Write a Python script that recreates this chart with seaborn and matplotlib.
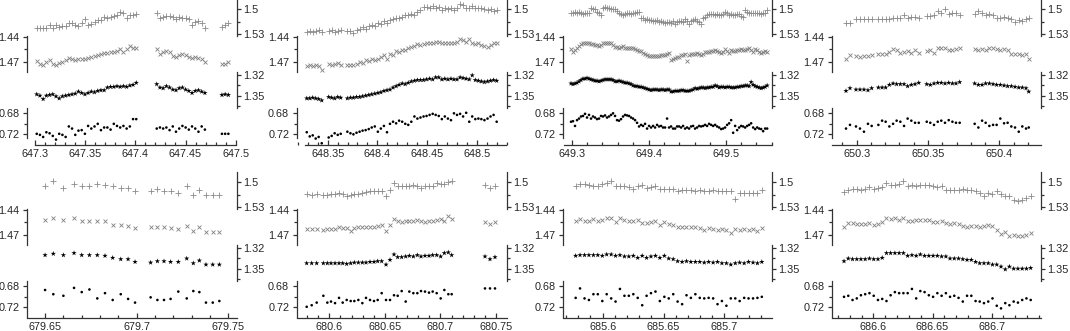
import matplotlib
matplotlib.use('Agg')
import matplotlib.pyplot as plt
from matplotlib.ticker import MultipleLocator, FormatStrFormatter
import seaborn as sns

# ---- night 647 ----
t_647 = [647.3017, 647.3049, 647.3081, 647.3113, 647.3145, 647.3177, 647.3209, 647.3241, 647.3273, 647.3305,
         647.3337, 647.3369, 647.3401, 647.3433, 647.3465, 647.3497, 647.3529, 647.3561, 647.3593, 647.3625,
         647.3657, 647.3689, 647.3721, 647.3753, 647.3785, 647.3817, 647.3849, 647.3881, 647.3913, 647.3945,
         647.3977, 647.4009,
         647.4213, 647.4245, 647.4277, 647.4309, 647.4341, 647.4373, 647.4405, 647.4437, 647.4469, 647.4501,
         647.4533, 647.4565, 647.4597, 647.4629, 647.4661, 647.4693,
         647.4863, 647.4895, 647.4927]
plus_647 = [1.523, 1.523, 1.523, 1.523, 1.519, 1.523, 1.519, 1.521, 1.520, 1.520, 1.517, 1.517, 1.519, 1.520,
            1.517, 1.512, 1.519, 1.518, 1.515, 1.513, 1.513, 1.509, 1.511, 1.509, 1.508, 1.507, 1.503, 1.505,
            1.511, 1.507, 1.507, 1.506,
            1.504, 1.511, 1.509, 1.508, 1.508, 1.509, 1.512, 1.509, 1.511, 1.511, 1.512, 1.519, 1.515, 1.514,
            1.516, 1.522,
            1.521, 1.519, 1.517]
cross_647 = [1.469, 1.472, 1.474, 1.470, 1.468, 1.472, 1.474, 1.471, 1.470, 1.468, 1.465, 1.466, 1.468, 1.466,
             1.467, 1.466, 1.465, 1.464, 1.463, 1.462, 1.460, 1.459, 1.459, 1.458, 1.458, 1.457, 1.455, 1.458,
             1.455, 1.451, 1.454, 1.453,
             1.455, 1.460, 1.458, 1.457, 1.458, 1.463, 1.464, 1.462, 1.460, 1.462, 1.464, 1.465, 1.464, 1.465,
             1.466, 1.470,
             1.472, 1.472, 1.470]
star_647 = [1.348, 1.350, 1.355, 1.350, 1.349, 1.348, 1.351, 1.354, 1.351, 1.350, 1.349, 1.348, 1.347, 1.344,
            1.346, 1.348, 1.346, 1.344, 1.345, 1.343, 1.342, 1.342, 1.338, 1.337, 1.337, 1.336, 1.337, 1.336,
            1.337, 1.335, 1.334, 1.331,
            1.333, 1.338, 1.339, 1.336, 1.338, 1.341, 1.342, 1.339, 1.338, 1.341, 1.343, 1.346, 1.343, 1.342,
            1.344, 1.346,
            1.349, 1.348, 1.349]
dot_647 = [0.719, 0.721, 0.725, 0.716, 0.718, 0.723, 0.730, 0.719, 0.721, 0.725, 0.705, 0.709, 0.721, 0.713,
           0.712, 0.719, 0.704, 0.709, 0.705, 0.700, 0.712, 0.707, 0.707, 0.711, 0.700, 0.704, 0.707, 0.704,
           0.709, 0.705, 0.691, 0.691,
           0.709, 0.707, 0.709, 0.707, 0.712, 0.705, 0.715, 0.709, 0.704, 0.707, 0.711, 0.705, 0.709, 0.715,
           0.705, 0.711,
           0.719, 0.719, 0.719]

# ---- night 648 ----
t_648 = [648.3289, 648.3319, 648.3349, 648.3379, 648.3409, 648.3440,
         648.3510, 648.3540, 648.3570, 648.3601, 648.3631,
         648.3698, 648.3729, 648.3759, 648.3790, 648.3821, 648.3851, 648.3882, 648.3913, 648.3943, 648.3974,
         648.4005, 648.4035, 648.4066, 648.4097, 648.4127, 648.4158, 648.4189, 648.4219, 648.4250, 648.4281,
         648.4311, 648.4342, 648.4373, 648.4403, 648.4434, 648.4465, 648.4495, 648.4526, 648.4557, 648.4587,
         648.4618, 648.4649, 648.4679, 648.4710, 648.4741, 648.4771, 648.4802, 648.4833, 648.4863, 648.4894,
         648.4925, 648.4955, 648.4986, 648.5017, 648.5047, 648.5078, 648.5109, 648.5139, 648.5170, 648.5201]
plus_648 = [1.527, 1.526, 1.527, 1.526, 1.525, 1.527,
            1.526, 1.525, 1.527, 1.526, 1.525,
            1.526, 1.526, 1.529, 1.525, 1.524, 1.521, 1.524, 1.520, 1.519, 1.520,
            1.516, 1.518, 1.514, 1.516, 1.513, 1.512, 1.511, 1.510, 1.509, 1.507,
            1.507, 1.506, 1.507, 1.503, 1.501, 1.497, 1.497, 1.498, 1.496, 1.498,
            1.497, 1.501, 1.498, 1.500, 1.499, 1.501, 1.499, 1.494, 1.495, 1.498,
            1.499, 1.496, 1.498, 1.499, 1.498, 1.500, 1.501, 1.500, 1.502, 1.501]
cross_648 = [1.475, 1.474, 1.475, 1.474, 1.475, 1.479,
             1.472, 1.473, 1.472, 1.471, 1.473,
             1.474, 1.473, 1.474, 1.472, 1.470, 1.471, 1.468, 1.469, 1.467, 1.468,
             1.466, 1.464, 1.462, 1.466, 1.460, 1.462, 1.457, 1.458, 1.456, 1.456,
             1.454, 1.452, 1.451, 1.449, 1.450, 1.449, 1.448, 1.447, 1.448, 1.446,
             1.446, 1.448, 1.447, 1.448, 1.447, 1.448, 1.446, 1.443, 1.444, 1.446,
             1.443, 1.447, 1.449, 1.448, 1.450, 1.451, 1.452, 1.450, 1.448, 1.448]
star_648 = [1.354, 1.354, 1.353, 1.354, 1.355, 1.357,
            1.352, 1.353, 1.354, 1.352, 1.353,
            1.354, 1.353, 1.353, 1.352, 1.352, 1.351, 1.350, 1.349, 1.348, 1.347,
            1.346, 1.345, 1.343, 1.342, 1.341, 1.338, 1.336, 1.334, 1.332, 1.333,
            1.331, 1.329, 1.328, 1.327, 1.327, 1.327, 1.326, 1.325, 1.326, 1.323,
            1.323, 1.326, 1.325, 1.326, 1.325, 1.326, 1.326, 1.323, 1.324, 1.325,
            1.326, 1.320, 1.327, 1.328, 1.329, 1.330, 1.329, 1.328, 1.327, 1.328]
dot_648 = [0.716, 0.724, 0.722, 0.728, 0.725, 0.737,
           0.726, 0.723, 0.718, 0.721, 0.719,
           0.715, 0.718, 0.720, 0.717, 0.715, 0.713, 0.712, 0.710, 0.707, 0.705,
           0.715, 0.709, 0.704, 0.716, 0.700, 0.696, 0.699, 0.694, 0.696, 0.700,
           0.702, 0.696, 0.686, 0.690, 0.688, 0.686, 0.685, 0.683, 0.681, 0.683,
           0.685, 0.691, 0.686, 0.690, 0.693, 0.680, 0.683, 0.681, 0.686, 0.679,
           0.696, 0.686, 0.691, 0.690, 0.691, 0.693, 0.690, 0.686, 0.683, 0.696]

# ---- night 649 ----
t_649 = [649.2991, 649.3017, 649.3043, 649.3069, 649.3095, 649.3121, 649.3147, 649.3173, 649.3199, 649.3225,
         649.3251, 649.3277, 649.3303, 649.3329, 649.3355, 649.3381, 649.3407, 649.3433, 649.3459, 649.3485,
         649.3511, 649.3537, 649.3563, 649.3589, 649.3615, 649.3641, 649.3667, 649.3693, 649.3719, 649.3745,
         649.3771, 649.3797, 649.3823, 649.3849, 649.3875, 649.3901, 649.3927, 649.3953, 649.3979, 649.4005,
         649.4031, 649.4057, 649.4083, 649.4109, 649.4135, 649.4161, 649.4187, 649.4213, 649.4239, 649.4265,
         649.4291, 649.4317, 649.4343, 649.4369, 649.4395, 649.4421, 649.4447, 649.4473, 649.4499, 649.4525,
         649.4551, 649.4577, 649.4603, 649.4629, 649.4655, 649.4681, 649.4707, 649.4733, 649.4759, 649.4785,
         649.4811, 649.4837, 649.4863, 649.4889, 649.4915, 649.4941, 649.4967, 649.4993, 649.5019, 649.5045,
         649.5071, 649.5097, 649.5123, 649.5149, 649.5175, 649.5201, 649.5227, 649.5253, 649.5279, 649.5305,
         649.5331, 649.5357, 649.5383, 649.5409, 649.5435, 649.5461, 649.5487, 649.5513, 649.5539]
plus_649 = [1.504, 1.504, 1.503, 1.504, 1.503, 1.505, 1.506, 1.504, 1.505, 1.504,
            1.498, 1.500, 1.500, 1.503, 1.504, 1.507, 1.499, 1.497, 1.498, 1.499,
            1.500, 1.500, 1.500, 1.502, 1.505, 1.506, 1.507, 1.506, 1.504, 1.505,
            1.506, 1.505, 1.504, 1.503, 1.503, 1.510, 1.511, 1.513, 1.512, 1.513,
            1.513, 1.514, 1.514, 1.513, 1.515, 1.514, 1.515, 1.516, 1.515, 1.515,
            1.517, 1.514, 1.518, 1.515, 1.514, 1.514, 1.515, 1.512, 1.514, 1.518,
            1.514, 1.513, 1.512, 1.514, 1.515, 1.518, 1.511, 1.509, 1.507, 1.506,
            1.506, 1.506, 1.507, 1.506, 1.507, 1.507, 1.506, 1.503, 1.505, 1.507,
            1.506, 1.507, 1.507, 1.506, 1.506, 1.508, 1.509, 1.501, 1.503, 1.504,
            1.504, 1.504, 1.505, 1.505, 1.505, 1.506, 1.505, 1.505, 1.501]
cross_649 = [1.455, 1.458, 1.456, 1.454, 1.451, 1.449, 1.448, 1.447, 1.448, 1.447,
             1.449, 1.449, 1.450, 1.450, 1.451, 1.450, 1.447, 1.447, 1.448, 1.448,
             1.448, 1.450, 1.452, 1.452, 1.453, 1.452, 1.451, 1.454, 1.453, 1.453,
             1.454, 1.454, 1.455, 1.456, 1.457, 1.457, 1.459, 1.460, 1.462, 1.463,
             1.463, 1.463, 1.463, 1.463, 1.463, 1.462, 1.462, 1.462, 1.460, 1.459,
             1.468, 1.466, 1.465, 1.464, 1.464, 1.462, 1.462, 1.461, 1.469, 1.462,
             1.461, 1.460, 1.460, 1.459, 1.460, 1.462, 1.461, 1.458, 1.458, 1.458,
             1.457, 1.457, 1.456, 1.457, 1.458, 1.459, 1.458, 1.455, 1.457, 1.459,
             1.456, 1.457, 1.457, 1.456, 1.456, 1.455, 1.456, 1.456, 1.455, 1.454,
             1.456, 1.458, 1.455, 1.456, 1.458, 1.459, 1.458, 1.457, 1.458]
star_649 = [1.332, 1.333, 1.332, 1.331, 1.329, 1.327, 1.325, 1.325, 1.324, 1.325,
            1.326, 1.327, 1.328, 1.328, 1.329, 1.328, 1.327, 1.326, 1.326, 1.326,
            1.326, 1.327, 1.329, 1.329, 1.328, 1.329, 1.330, 1.331, 1.331, 1.332,
            1.333, 1.335, 1.336, 1.336, 1.337, 1.337, 1.338, 1.339, 1.340, 1.341,
            1.342, 1.341, 1.341, 1.341, 1.342, 1.341, 1.341, 1.342, 1.341, 1.341,
            1.344, 1.344, 1.343, 1.343, 1.343, 1.342, 1.342, 1.343, 1.343, 1.343,
            1.342, 1.341, 1.339, 1.340, 1.339, 1.338, 1.338, 1.339, 1.338, 1.338,
            1.337, 1.337, 1.335, 1.336, 1.338, 1.337, 1.337, 1.338, 1.337, 1.337,
            1.338, 1.338, 1.338, 1.337, 1.337, 1.336, 1.336, 1.335, 1.335, 1.336,
            1.330, 1.334, 1.336, 1.337, 1.338, 1.339, 1.338, 1.337, 1.335]
dot_649 = [0.696, 0.695, 0.704, 0.693, 0.690, 0.686, 0.685, 0.681, 0.688, 0.683,
           0.690, 0.686, 0.688, 0.691, 0.690, 0.685, 0.686, 0.684, 0.688, 0.686,
           0.683, 0.680, 0.685, 0.693, 0.694, 0.691, 0.686, 0.683, 0.684, 0.685,
           0.688, 0.690, 0.693, 0.698, 0.705, 0.702, 0.704, 0.700, 0.709, 0.704,
           0.707, 0.704, 0.707, 0.702, 0.705, 0.704, 0.707, 0.707, 0.690, 0.707,
           0.705, 0.709, 0.709, 0.705, 0.705, 0.707, 0.704, 0.709, 0.707, 0.709,
           0.705, 0.704, 0.709, 0.707, 0.704, 0.705, 0.704, 0.702, 0.704, 0.700,
           0.702, 0.704, 0.702, 0.705, 0.707, 0.710, 0.709, 0.707, 0.702, 0.699,
           0.693, 0.717, 0.704, 0.712, 0.707, 0.704, 0.705, 0.707, 0.704, 0.702,
           0.699, 0.707, 0.710, 0.707, 0.709, 0.710, 0.714, 0.709, 0.709]

# ---- night 650 ----
t_650 = [650.2925, 650.2953,
         650.2995, 650.3023, 650.3051, 650.3079, 650.3105,
         650.3152, 650.3178, 650.3203, 650.3229, 650.3255, 650.3280, 650.3306, 650.3332, 650.3357, 650.3383,
         650.3409, 650.3435,
         650.3491, 650.3516, 650.3542, 650.3568, 650.3593, 650.3619, 650.3645, 650.3671, 650.3696, 650.3722,
         650.3827, 650.3853, 650.3879, 650.3904, 650.3930, 650.3956, 650.3981, 650.4007, 650.4033, 650.4058,
         650.4084, 650.4110, 650.4136, 650.4161, 650.4187, 650.4206]
plus_650 = [1.516, 1.517, 1.512, 1.512, 1.512, 1.512, 1.512,
            1.512, 1.512, 1.512, 1.512, 1.510, 1.510, 1.511, 1.507, 1.511, 1.509, 1.509, 1.510,
            1.508, 1.508, 1.507, 1.502, 1.505, 1.500, 1.506, 1.504, 1.505, 1.507,
            1.506, 1.502, 1.505, 1.507, 1.506, 1.507, 1.511, 1.511, 1.509, 1.511, 1.512, 1.515, 1.513, 1.514,
            1.512, 1.511]
cross_650 = [1.466, 1.462, 1.463, 1.464, 1.463, 1.463, 1.462,
             1.460, 1.460, 1.460, 1.458, 1.455, 1.456, 1.459, 1.458, 1.457, 1.459, 1.456, 1.459,
             1.457, 1.456, 1.459, 1.453, 1.454, 1.453, 1.456, 1.456, 1.455, 1.453,
             1.455, 1.456, 1.455, 1.456, 1.454, 1.454, 1.455, 1.456, 1.455, 1.456, 1.460, 1.461, 1.460, 1.462,
             1.461, 1.466]
star_650 = [1.343, 1.339, 1.341, 1.341, 1.341, 1.342, 1.339,
            1.338, 1.338, 1.338, 1.334, 1.332, 1.333, 1.333, 1.333, 1.336, 1.334, 1.333, 1.331,
            1.333, 1.334, 1.332, 1.331, 1.331, 1.332, 1.331, 1.332, 1.332, 1.330,
            1.332, 1.334, 1.334, 1.332, 1.332, 1.333, 1.334, 1.334, 1.335, 1.336, 1.336, 1.337, 1.338, 1.338,
            1.339, 1.344]
dot_650 = [0.709, 0.702, 0.705, 0.709, 0.715, 0.700, 0.704,
           0.702, 0.694, 0.696, 0.705, 0.700, 0.694, 0.696, 0.704, 0.690, 0.694, 0.698, 0.698,
           0.696, 0.698, 0.702, 0.696, 0.694, 0.698, 0.693, 0.696, 0.698, 0.698,
           0.700, 0.707, 0.694, 0.698, 0.704, 0.702, 0.702, 0.690, 0.699, 0.698, 0.705, 0.707, 0.715, 0.705,
           0.709, 0.707]

# ---- night 679 ----
t_679 = [679.6500, 679.6545, 679.6600, 679.6658, 679.6700, 679.6742, 679.6785, 679.6827, 679.6869, 679.6913,
         679.6953, 679.6991,
         679.7076, 679.7113, 679.7149, 679.7185, 679.7227, 679.7273, 679.7309, 679.7342, 679.7378, 679.7415,
         679.7451]
plus_679 = [1.504, 1.498, 1.507, 1.502, 1.504, 1.504, 1.502, 1.503, 1.505, 1.507, 1.507, 1.511,
            1.511, 1.508, 1.511, 1.511, 1.513, 1.505, 1.515, 1.509, 1.515, 1.515, 1.515]
cross_679 = [1.452, 1.450, 1.452, 1.450, 1.453, 1.453, 1.454, 1.454, 1.458, 1.458, 1.459, 1.462,
             1.461, 1.461, 1.461, 1.462, 1.463, 1.459, 1.465, 1.461, 1.467, 1.467, 1.467]
star_679 = [1.330, 1.328, 1.330, 1.327, 1.330, 1.330, 1.330, 1.331, 1.334, 1.336, 1.336, 1.340,
            1.341, 1.339, 1.339, 1.340, 1.340, 1.335, 1.342, 1.338, 1.344, 1.344, 1.344]
dot_679 = [0.687, 0.695, 0.698, 0.683, 0.691, 0.686, 0.703, 0.693, 0.706, 0.695, 0.704, 0.711,
           0.701, 0.706, 0.706, 0.704, 0.690, 0.703, 0.689, 0.691, 0.711, 0.711, 0.708]

# ---- night 680 ----
t_680 = [680.5796, 680.5841, 680.5886,
         680.5946, 680.5982, 680.6015, 680.6051, 680.6087, 680.6120, 680.6156, 680.6192, 680.6225, 680.6261,
         680.6297, 680.6330, 680.6366, 680.6402, 680.6435, 680.6471, 680.6510, 680.6546, 680.6582, 680.6615,
         680.6651, 680.6687, 680.6720, 680.6756, 680.6792, 680.6825, 680.6861, 680.6897, 680.6930, 680.6966,
         680.7002, 680.7035, 680.7071, 680.7101,
         680.7401, 680.7446, 680.7491]
plus_680 = [1.514, 1.515, 1.514,
            1.515, 1.515, 1.514, 1.514, 1.513, 1.514, 1.516, 1.515, 1.514, 1.514, 1.513, 1.512, 1.511, 1.511,
            1.510, 1.510, 1.517, 1.509, 1.501, 1.505, 1.505, 1.505, 1.504, 1.503, 1.505, 1.507, 1.505, 1.504,
            1.504, 1.501, 1.502, 1.502, 1.500, 1.499,
            1.503, 1.507, 1.504]
cross_680 = [1.463, 1.463, 1.463,
             1.464, 1.463, 1.463, 1.463, 1.461, 1.462, 1.462, 1.465, 1.462, 1.461, 1.461, 1.460, 1.460, 1.460,
             1.459, 1.458, 1.465, 1.458, 1.451, 1.454, 1.455, 1.454, 1.453, 1.454, 1.452, 1.453, 1.455, 1.453,
             1.453, 1.452, 1.451, 1.453, 1.448, 1.451,
             1.455, 1.457, 1.455]
star_680 = [1.342, 1.342, 1.342,
            1.342, 1.342, 1.342, 1.342, 1.342, 1.342, 1.343, 1.342, 1.341, 1.341, 1.341, 1.341, 1.340, 1.340,
            1.339, 1.339, 1.344, 1.337, 1.329, 1.333, 1.333, 1.332, 1.331, 1.332, 1.330, 1.332, 1.331, 1.331,
            1.330, 1.330, 1.332, 1.327, 1.326, 1.330,
            1.332, 1.336, 1.333]
dot_680 = [0.719, 0.716, 0.711,
           0.698, 0.711, 0.709, 0.712, 0.702, 0.711, 0.706, 0.708, 0.708, 0.706, 0.712, 0.702, 0.706, 0.708,
           0.706, 0.693, 0.706, 0.706, 0.697, 0.698, 0.689, 0.709, 0.690, 0.693, 0.693, 0.689, 0.690, 0.692,
           0.690, 0.693, 0.703, 0.687, 0.695, 0.695,
           0.684, 0.684, 0.684]

# ---- night 685 ----
t_685 = [685.5778, 685.5814, 685.5851, 685.5887, 685.5924, 685.5960, 685.5997, 685.6033, 685.6070, 685.6106,
         685.6142, 685.6179, 685.6215, 685.6252, 685.6288, 685.6325, 685.6361, 685.6397, 685.6434, 685.6470,
         685.6507, 685.6543, 685.6580, 685.6616, 685.6653, 685.6689, 685.6725, 685.6762, 685.6798, 685.6835,
         685.6871, 685.6908, 685.6944, 685.6980, 685.7017, 685.7053, 685.7090, 685.7126, 685.7163, 685.7199,
         685.7236, 685.7272, 685.7308]
plus_685 = [1.504, 1.502, 1.502, 1.503, 1.504, 1.504, 1.502, 1.501, 1.498, 1.504,
            1.504, 1.505, 1.506, 1.508, 1.505, 1.503, 1.507, 1.506, 1.504, 1.508,
            1.508, 1.508, 1.508, 1.510, 1.509, 1.509, 1.509, 1.510, 1.509, 1.510,
            1.510, 1.509, 1.511, 1.510, 1.511, 1.510, 1.520, 1.513, 1.513, 1.513,
            1.513, 1.513, 1.509]
cross_685 = [1.454, 1.451, 1.453, 1.453, 1.451, 1.453, 1.452, 1.450, 1.450, 1.455,
             1.450, 1.452, 1.454, 1.454, 1.452, 1.456, 1.456, 1.455, 1.454, 1.458,
             1.455, 1.457, 1.458, 1.460, 1.461, 1.460, 1.460, 1.461, 1.462, 1.464,
             1.462, 1.463, 1.464, 1.463, 1.464, 1.468, 1.463, 1.464, 1.463, 1.464,
             1.463, 1.465, 1.462]
star_685 = [1.331, 1.330, 1.330, 1.330, 1.330, 1.330, 1.331, 1.329, 1.329, 1.331,
            1.330, 1.332, 1.332, 1.331, 1.334, 1.331, 1.334, 1.332, 1.331, 1.334,
            1.331, 1.335, 1.336, 1.339, 1.340, 1.339, 1.340, 1.340, 1.340, 1.341,
            1.340, 1.341, 1.340, 1.342, 1.342, 1.344, 1.342, 1.341, 1.342, 1.340,
            1.341, 1.342, 1.340]
dot_685 = [0.702, 0.684, 0.703, 0.706, 0.695, 0.695, 0.708, 0.695, 0.703, 0.709,
           0.685, 0.698, 0.698, 0.695, 0.702, 0.716, 0.698, 0.693, 0.690, 0.708,
           0.700, 0.703, 0.695, 0.709, 0.714, 0.697, 0.702, 0.695, 0.702, 0.703,
           0.702, 0.703, 0.714, 0.708, 0.717, 0.703, 0.703, 0.708, 0.702, 0.703,
           0.703, 0.702, 0.700]

# ---- night 686 ----
t_686 = [686.5752, 686.5788, 686.5824, 686.5860, 686.5895, 686.5931, 686.5967, 686.6003, 686.6039, 686.6075,
         686.6111, 686.6146, 686.6182, 686.6218, 686.6254, 686.6290, 686.6326, 686.6362, 686.6397, 686.6433,
         686.6469, 686.6505, 686.6541, 686.6577, 686.6613, 686.6648, 686.6684, 686.6720, 686.6756, 686.6792,
         686.6828, 686.6864, 686.6899, 686.6935, 686.6971, 686.7007, 686.7043, 686.7079, 686.7115, 686.7150,
         686.7186, 686.7222, 686.7258, 686.7294, 686.7330]
plus_686 = [1.512, 1.509, 1.508, 1.508, 1.509, 1.508, 1.506, 1.508, 1.507, 1.506,
            1.501, 1.503, 1.503, 1.502, 1.499, 1.504, 1.503, 1.504, 1.503, 1.503,
            1.503, 1.504, 1.506, 1.505, 1.509, 1.509, 1.509, 1.509, 1.508, 1.509,
            1.509, 1.511, 1.513, 1.516, 1.513, 1.514, 1.510, 1.514, 1.517, 1.516,
            1.521, 1.522, 1.521, 1.519, 1.517]
cross_686 = [1.460, 1.456, 1.456, 1.457, 1.457, 1.457, 1.456, 1.458, 1.457, 1.455,
             1.450, 1.451, 1.450, 1.452, 1.450, 1.453, 1.453, 1.452, 1.452, 1.452,
             1.452, 1.455, 1.455, 1.454, 1.456, 1.457, 1.456, 1.457, 1.459, 1.460,
             1.459, 1.459, 1.461, 1.459, 1.458, 1.459, 1.464, 1.469, 1.467, 1.471,
             1.470, 1.471, 1.471, 1.470, 1.468]
star_686 = [1.339, 1.335, 1.336, 1.336, 1.336, 1.336, 1.335, 1.336, 1.336, 1.334,
            1.327, 1.327, 1.327, 1.327, 1.327, 1.331, 1.330, 1.331, 1.329, 1.331,
            1.331, 1.331, 1.331, 1.332, 1.332, 1.335, 1.335, 1.335, 1.336, 1.337,
            1.337, 1.340, 1.342, 1.342, 1.342, 1.344, 1.344, 1.347, 1.351, 1.347,
            1.350, 1.350, 1.350, 1.350, 1.349]
dot_686 = [0.700, 0.698, 0.706, 0.703, 0.697, 0.695, 0.693, 0.698, 0.706, 0.704,
           0.708, 0.697, 0.691, 0.693, 0.693, 0.693, 0.685, 0.703, 0.689, 0.691,
           0.697, 0.700, 0.693, 0.698, 0.693, 0.700, 0.698, 0.702, 0.709, 0.698,
           0.698, 0.708, 0.709, 0.712, 0.709, 0.703, 0.717, 0.722, 0.712, 0.716,
           0.709, 0.711, 0.706, 0.703, 0.706]

# y tick marks / labels of the four bands
plus_ticks, plus_labels, plus_minor = [1.5, 1.53], ['1.5', '1.53'], [1.515]
cross_ticks, cross_labels, cross_minor = [1.44, 1.47], ['1.44', '1.47'], [1.455]
star_ticks, star_labels, star_minor = [1.32, 1.35], ['1.32', '1.35'], [1.335, 1.365]
dot_ticks, dot_labels, dot_minor = [0.68, 0.72], ['0.68', '0.72'], [0.70]

sns.set_theme(style='ticks')
plt.rcParams['font.family'] = ['Liberation Sans', 'DejaVu Sans']

W, H = 1070, 331
fig = plt.figure(figsize=(W / 100, H / 100), dpi=100)

col_left = [27.3, 296.8, 563.0, 832.3]
col_right = [237.3, 507.0, 772.4, 1041.0]
row_top = [0, 173]
AXIS_COL = '#333333'

# (series index, px top, px bottom, value at ref px, ref px, px per unit, spine side, spine bounds)
bands = [
    ('plus', -1, 36, 1.5, 9.3, 833.0, 'right', (1.488, 1.532), plus_ticks, plus_labels, plus_minor),
    ('cross', 36, 72, 1.44, 36.67, 844.0, 'left', (1.4395, 1.482), cross_ticks, cross_labels, cross_minor),
    ('star', 72, 108, 1.32, 75.33, 677.5, 'right', (1.3151, 1.368), star_ticks, star_labels, star_minor),
    ('dot', 108, 144.5, 0.68, 113.33, 525.0, 'left', (0.670, 0.727), dot_ticks, dot_labels, dot_minor),
]
styles = {
    'plus': dict(marker='+', color='#8a8a8a', s=16, linewidth=0.6),
    'cross': dict(marker='x', color='#808080', s=8, linewidth=0.6),
    'star': dict(marker='*', color='black', s=16, linewidth=0),
    'dot': dict(marker='o', color='black', s=3.5, linewidth=0),
}

panels = [
    dict(t=t_647, plus=plus_647, cross=cross_647, star=star_647, dot=dot_647, col=0, row=0,
         xlim=(647.2923, 647.5016), xb=(647.3, 647.5), major=0.05, minor=0.01),
    dict(t=t_648, plus=plus_648, cross=cross_648, star=star_648, dot=dot_648, col=1, row=0,
         xlim=(648.3189, 648.5305), xb=(648.3272, 648.5292), major=0.05, minor=0.01),
    dict(t=t_649, plus=plus_649, cross=cross_649, star=star_649, dot=dot_649, col=2, row=0,
         xlim=(649.2887, 649.5607), xb=(649.2904, 649.5607), major=0.1, minor=0.02),
    dict(t=t_650, plus=plus_650, cross=cross_650, star=star_650, dot=dot_650, col=3, row=0,
         xlim=(650.2829, 650.4292), xb=(650.2829, 650.4292), major=0.05, minor=0.01),
    dict(t=t_679, plus=plus_679, cross=cross_679, star=star_679, dot=dot_679, col=0, row=1,
         xlim=(679.6403, 679.7549), xb=(679.6403, 679.7549), major=0.05, minor=0.01),
    dict(t=t_680, plus=plus_680, cross=cross_680, star=star_680, dot=dot_680, col=1, row=1,
         xlim=(680.5707, 680.7599), xb=(680.5707, 680.7599), major=0.05, minor=0.01),
    dict(t=t_685, plus=plus_685, cross=cross_685, star=star_685, dot=dot_685, col=2, row=1,
         xlim=(685.5674, 685.7395), xb=(685.5674, 685.7395), major=0.05, minor=0.01),
    dict(t=t_686, plus=plus_686, cross=cross_686, star=star_686, dot=dot_686, col=3, row=1,
         xlim=(686.5653, 686.7417), xb=(686.5653, 686.7417), major=0.05, minor=0.01),
]

for p in panels:
    L, R = col_left[p['col']], col_right[p['col']]
    T = row_top[p['row']]
    for name, top, bot, v0, p0, scale, side, sb, ticks, labels, minors in bands:
        ax = fig.add_axes([L / W, 1 - (T + bot) / H, (R - L) / W, (bot - top) / H])
        ax.patch.set_alpha(0)
        sns.scatterplot(x=p['t'], y=p[name], ax=ax, legend=False, clip_on=False,
                        edgecolor='none' if styles[name]['marker'] in '*o' else None,
                        **styles[name])
        ax.set_xlim(*p['xlim'])
        ax.set_ylim(v0 + (bot - p0) / scale, v0 + (top - p0) / scale)
        ax.set_xlabel('')
        ax.set_ylabel('')
        for sp in ax.spines.values():
            sp.set_visible(False)
        ax.spines[side].set_visible(True)
        if name == 'dot' and p['row'] == 1:
            sb = (0.670, 0.7385)
        ax.spines[side].set_bounds(*sb)
        ax.spines[side].set_color(AXIS_COL)
        ax.spines[side].set_linewidth(0.9)
        if side == 'right':
            ax.yaxis.tick_right()
        ax.set_yticks(ticks, labels=labels)
        ax.set_yticks(minors, minor=True)
        ax.tick_params(axis='y', which='both', direction='out', color=AXIS_COL, width=0.9,
                       left=(side == 'left'), right=(side == 'right'),
                       labelleft=(side == 'left'), labelright=(side == 'right'),
                       labelsize=7.8, pad=1.5 if side == 'right' else 2.5)
        ax.tick_params(axis='y', which='major', length=3)
        ax.tick_params(axis='y', which='minor', length=2.5)
        if name == 'dot':
            ax.spines['bottom'].set_visible(True)
            ax.spines['bottom'].set_bounds(*p['xb'])
            ax.spines['bottom'].set_color(AXIS_COL)
            ax.spines['bottom'].set_linewidth(0.9)
            ax.xaxis.set_major_locator(MultipleLocator(p['major']))
            ax.xaxis.set_minor_locator(MultipleLocator(p['minor']))
            ax.xaxis.set_major_formatter(FormatStrFormatter('%g'))
            ax.tick_params(axis='x', which='both', direction='in', color=AXIS_COL, width=0.9,
                           bottom=True, top=False, labelsize=7.8, pad=3)
            ax.tick_params(axis='x', which='major', length=3.5)
            ax.tick_params(axis='x', which='minor', length=2)
        else:
            ax.tick_params(axis='x', which='both', bottom=False, top=False, labelbottom=False)

fig.savefig('out.png', dpi=100)
